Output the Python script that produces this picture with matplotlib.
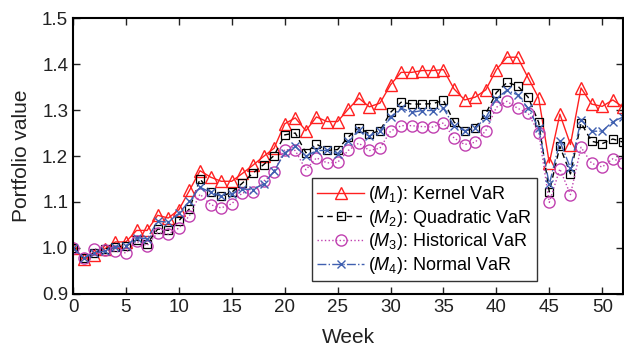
import numpy as np
import matplotlib
matplotlib.use("Agg")
import matplotlib.pyplot as plt

plt.rcParams['font.family'] = ['Liberation Sans', 'DejaVu Sans']
plt.rcParams['mathtext.fontset'] = 'custom'
plt.rcParams['mathtext.it'] = 'Liberation Sans:italic'
plt.rcParams['mathtext.rm'] = 'Liberation Sans'

weeks = np.arange(0, 53)

kernel = [1.000, 0.976, 0.985, 0.998, 1.013, 1.013, 1.038, 1.038, 1.071, 1.065,
          1.083, 1.125, 1.168, 1.154, 1.145, 1.145, 1.162, 1.180, 1.199, 1.217,
          1.270, 1.283, 1.255, 1.285, 1.275, 1.275, 1.302, 1.326, 1.307, 1.315,
          1.355, 1.382, 1.382, 1.386, 1.386, 1.388, 1.346, 1.322, 1.328, 1.344,
          1.388, 1.415, 1.415, 1.370, 1.326, 1.185, 1.291, 1.225, 1.348, 1.313,
          1.308, 1.322, 1.306]
quadratic = [1.000, 0.978, 0.989, 0.998, 1.002, 1.004, 1.017, 1.009, 1.041, 1.038,
             1.059, 1.085, 1.150, 1.121, 1.112, 1.121, 1.141, 1.163, 1.181, 1.201,
             1.246, 1.250, 1.207, 1.226, 1.212, 1.214, 1.241, 1.262, 1.248, 1.255,
             1.295, 1.317, 1.313, 1.313, 1.314, 1.321, 1.274, 1.254, 1.262, 1.292,
             1.338, 1.360, 1.353, 1.328, 1.273, 1.122, 1.221, 1.161, 1.272, 1.232,
             1.227, 1.237, 1.230]
historical = [1.000, 0.978, 0.998, 0.995, 0.993, 0.989, 1.014, 1.005, 1.033, 1.030,
              1.043, 1.070, 1.117, 1.094, 1.087, 1.096, 1.120, 1.121, 1.145, 1.165,
              1.214, 1.212, 1.170, 1.196, 1.185, 1.186, 1.212, 1.228, 1.212, 1.217,
              1.254, 1.266, 1.266, 1.264, 1.263, 1.272, 1.239, 1.225, 1.230, 1.255,
              1.306, 1.319, 1.304, 1.293, 1.251, 1.099, 1.172, 1.116, 1.219, 1.184,
              1.176, 1.194, 1.185]
normal = [1.000, 0.978, 0.989, 0.993, 1.002, 1.005, 1.022, 1.020, 1.058, 1.056,
          1.076, 1.101, 1.132, 1.121, 1.113, 1.118, 1.128, 1.127, 1.139, 1.167,
          1.207, 1.221, 1.199, 1.212, 1.212, 1.205, 1.232, 1.256, 1.243, 1.254,
          1.285, 1.304, 1.295, 1.299, 1.299, 1.304, 1.265, 1.255, 1.261, 1.283,
          1.325, 1.343, 1.333, 1.304, 1.261, 1.138, 1.232, 1.174, 1.279, 1.254,
          1.254, 1.275, 1.285]

labels = ['(' + r'$M_1$' + '): Kernel VaR',
          '(' + r'$M_2$' + '): Quadratic VaR',
          '(' + r'$M_3$' + '): Historical VaR',
          '(' + r'$M_4$' + '): Normal VaR']

fig = plt.figure(figsize=(6.24, 3.49), dpi=100)
ax = fig.add_axes([0.117, 0.158, 0.882, 0.79])

ax.plot(weeks, kernel, '-', color='#ff2020', lw=1.0, marker='^', ms=8,
        mfc='none', mec='#ff2020', mew=1.0, label=labels[0])
ax.plot(weeks, quadratic, '--', color='black', lw=1.0, marker='s', ms=6,
        mfc='none', mec='black', mew=0.9, dashes=(4, 3), label=labels[1])
ax.plot(weeks, historical, ':', color='#c040b0', lw=1.0, marker='o', ms=8,
        mfc='none', mec='#c040b0', mew=1.0, label=labels[2])
ax.plot(weeks, normal, '-.', color='#4060b0', lw=1.0, marker='x', ms=6,
        mec='#4060b0', mew=1.0, label=labels[3])

ax.set_xlim(0, 52)
ax.set_ylim(0.9, 1.5)
ax.set_xticks(np.arange(0, 51, 5))
ax.set_yticks(np.arange(0.9, 1.51, 0.1))
ax.yaxis.set_major_formatter(matplotlib.ticker.FormatStrFormatter('%.1f'))
ax.tick_params(direction='in', top=True, right=True, length=5, width=1.0,
               labelsize=13.5, colors='#222222')
for s in ax.spines.values():
    s.set_linewidth(1.5)
ax.set_xlabel('Week', fontsize=15, color='#222222', labelpad=9)
ax.set_ylabel('Portfolio value', fontsize=15, color='#222222', labelpad=8)

leg = ax.legend(loc='lower right', bbox_to_anchor=(0.843, 0.045), fontsize=13,
                frameon=True, fancybox=False, edgecolor='black',
                handlelength=2.6, handletextpad=0.2, labelspacing=0.15,
                borderpad=0.3, borderaxespad=0)
leg.get_frame().set_linewidth(1.0)

fig.savefig('out.png', dpi=100)
